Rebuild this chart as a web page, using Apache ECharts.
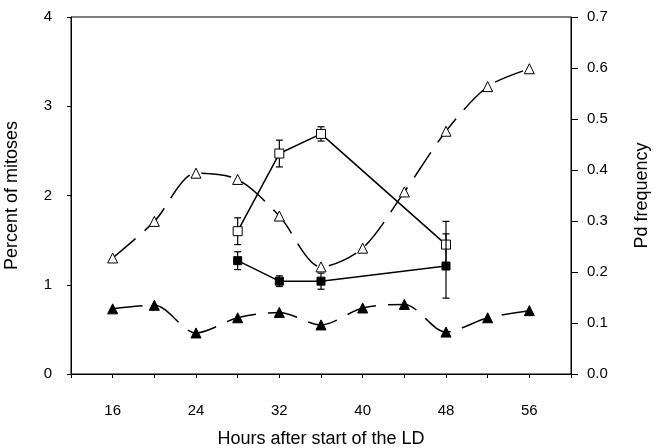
<!DOCTYPE html>
<html><head><meta charset="utf-8">
<script src="https://cdn.jsdelivr.net/npm/echarts@6/dist/echarts.min.js"></script>
<style>html,body{margin:0;padding:0;background:#fff}#c{width:661px;height:448px}</style>
</head><body><div id="c"></div>
<script>
const hoursTri = [16, 20, 24, 28, 32, 36, 40, 44, 48, 52, 56];
const openTri = [1.30, 1.71, 2.25, 2.18, 1.77, 1.20, 1.41, 2.04, 2.72, 3.22, 3.42];
const filledTri = [0.73, 0.77, 0.46, 0.63, 0.69, 0.55, 0.74, 0.78, 0.47, 0.63, 0.71];
const hoursSq = [28, 32, 36, 48];
const openSq = [1.60, 2.47, 2.69, 1.45];
const openSqErr = [0.15, 0.15, 0.08, 0.26];
const filledSq = [1.27, 1.04, 1.04, 1.21];
const filledSqErr = [0.10, 0.06, 0.09, 0.36];
const leftTicks = [0, 1, 2, 3, 4];
const rightTicks = [0.0, 0.1, 0.2, 0.3, 0.4, 0.5, 0.6, 0.7];
const xLabels = [16, 24, 32, 40, 48, 56];

const FONT = 'Liberation Sans';
const pair = (xs, ys) => xs.map((x, i) => [x, ys[i]]);
const errData = (xs, ys, es) => xs.map((x, i) => [x, ys[i] - es[i], ys[i] + es[i]]);

function errRender(params, api) {
  const x = api.value(0);
  const lo = api.coord([x, api.value(1)]);
  const hi = api.coord([x, api.value(2)]);
  const w = 3.5;
  const st = { stroke: '#000', lineWidth: 1.2 };
  return {
    type: 'group',
    children: [
      { type: 'line', shape: { x1: lo[0], y1: lo[1], x2: hi[0], y2: hi[1] }, style: st },
      { type: 'line', shape: { x1: lo[0] - w, y1: lo[1], x2: lo[0] + w, y2: lo[1] }, style: st },
      { type: 'line', shape: { x1: hi[0] - w, y1: hi[1], x2: hi[0] + w, y2: hi[1] }, style: st }
    ]
  };
}

const chart = echarts.init(document.getElementById('c'), null, { renderer: 'canvas' });
chart.setOption({
  animation: false,
  backgroundColor: '#fff',
  grid: { left: 71, right: 90, top: 17, bottom: 74, outerBoundsMode: 'none', containLabel: false,
          show: true, borderColor: '#000', borderWidth: 1, backgroundColor: 'transparent' },
  xAxis: {
    type: 'value', min: 12, max: 60, interval: 4,
    name: 'Hours after start of the LD', nameLocation: 'middle', nameGap: 56,
    nameTextStyle: { fontFamily: FONT, fontSize: 18, color: '#000' },
    axisLine: { lineStyle: { color: '#000', width: 1 } },
    axisTick: { show: true, length: 4, lineStyle: { color: '#000' } },
    splitLine: { show: false },
    axisLabel: {
      fontFamily: FONT, fontSize: 15, color: '#000', margin: 29,
      formatter: v => xLabels.includes(v) ? String(v) : ''
    }
  },
  yAxis: [
    {
      type: 'value', min: leftTicks[0], max: leftTicks[leftTicks.length - 1], interval: 1,
      name: 'Percent of mitoses', nameLocation: 'middle', nameGap: 50,
      nameTextStyle: { fontFamily: FONT, fontSize: 18, color: '#000' },
      axisLine: { show: true, lineStyle: { color: '#000' } },
      axisTick: { show: true, length: 4, lineStyle: { color: '#000' } },
      splitLine: { show: false },
      axisLabel: { fontFamily: FONT, fontSize: 15, color: '#000', margin: 19 }
    },
    {
      type: 'value', min: rightTicks[0], max: rightTicks[rightTicks.length - 1], interval: 0.1,
      position: 'right',
      name: 'Pd frequency', nameLocation: 'middle', nameGap: 62, nameRotate: 90,
      nameTextStyle: { fontFamily: FONT, fontSize: 18, color: '#000' },
      axisLine: { show: true, lineStyle: { color: '#000' } },
      axisTick: { show: true, length: 7, lineStyle: { color: '#000' } },
      splitLine: { show: false },
      axisLabel: { fontFamily: FONT, fontSize: 15, color: '#000', margin: 16, formatter: v => v.toFixed(1) }
    }
  ],
  series: [
    {
      type: 'line', data: pair(hoursTri, openTri), smooth: 0.3,
      symbol: 'triangle', symbolSize: 10,
      itemStyle: { color: '#fff', borderColor: '#000', borderWidth: 1 },
      lineStyle: { color: '#000', width: 1.5, type: [30, 12] }, z: 3
    },
    {
      type: 'line', data: pair(hoursTri, filledTri), smooth: 0.3,
      symbol: 'triangle', symbolSize: 10,
      itemStyle: { color: '#000', borderColor: '#000', borderWidth: 1 },
      lineStyle: { color: '#000', width: 1.5, type: [30, 12] }, z: 3
    },
    {
      type: 'custom', renderItem: errRender, data: errData(hoursSq, openSq, openSqErr), z: 4, silent: true
    },
    {
      type: 'line', data: pair(hoursSq, openSq),
      symbol: 'rect', symbolSize: 9,
      itemStyle: { color: '#fff', borderColor: '#000', borderWidth: 1 },
      lineStyle: { color: '#000', width: 1.5 }, z: 5
    },
    {
      type: 'custom', renderItem: errRender, data: errData(hoursSq, filledSq, filledSqErr), z: 6, silent: true
    },
    {
      type: 'line', data: pair(hoursSq, filledSq),
      symbol: 'rect', symbolSize: 8,
      itemStyle: { color: '#000', borderColor: '#000', borderWidth: 1 },
      lineStyle: { color: '#000', width: 1.5 }, z: 7
    }
  ]
});
</script></body></html>
